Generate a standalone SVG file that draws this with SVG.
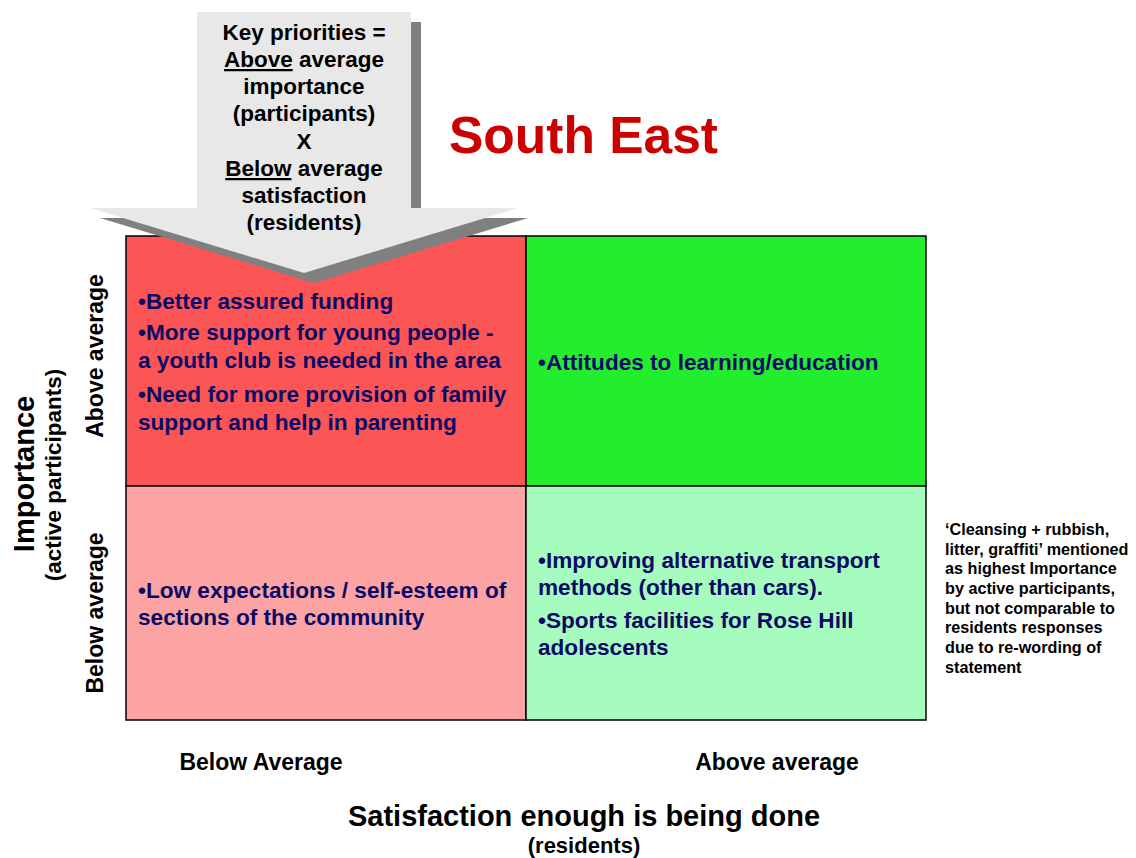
<svg xmlns="http://www.w3.org/2000/svg" width="1136" height="858" viewBox="0 0 1136 858">
<style>
text{font-family:"Liberation Sans",Arial,sans-serif;font-weight:bold}
.q{font-size:22.6px;fill:#0a0a66}
.k{font-size:22.5px;fill:#000;text-anchor:middle}
.n{font-size:16.2px;fill:#000}
.ax{font-size:23px;fill:#000;text-anchor:middle}
</style>
<rect width="1136" height="858" fill="#fff"/>
<g id="grid" stroke="#000" stroke-width="1.5">
<rect id="q-tl" x="126" y="236" width="400" height="250" fill="#FC5555"/>
<rect id="q-tr" x="526" y="236" width="400" height="250" fill="#22EE2E"/>
<rect id="q-bl" x="126" y="486" width="400" height="234" fill="#FCA3A3"/>
<rect id="q-br" x="526" y="486" width="400" height="234" fill="#A6FCBE"/>
</g>
<g id="tl-text">
<text class="q" x="138" y="309">•Better assured funding</text>
<text class="q" x="138" y="340">•More support for young people -</text>
<text class="q" x="138" y="368">a youth club is needed in the area</text>
<text class="q" x="138" y="402">•Need for more provision of family</text>
<text class="q" x="138" y="430">support and help in parenting</text>
</g>
<g id="tr-text"><text class="q" x="538" y="370">•Attitudes to learning/education</text></g>
<g id="bl-text">
<text class="q" x="138" y="598">•Low expectations / self-esteem of</text>
<text class="q" x="138" y="625">sections of the community</text>
</g>
<g id="br-text">
<text class="q" x="538" y="568">•Improving alternative transport</text>
<text class="q" x="538" y="595">methods (other than cars).</text>
<text class="q" x="538" y="628">•Sports facilities for Rose Hill</text>
<text class="q" x="538" y="655">adolescents</text>
</g>
<g id="arrow">
<polygon points="207,22 421,22 421,218 528,218 314,283 100,218 207,218" fill="#808080"/>
<polygon points="197,12 411,12 411,208 518,208 304,273 90,208 197,208" fill="#E8E8E8"/>
<text class="k" x="304" y="40">Key priorities =</text>
<text class="k" x="304" y="67"><tspan text-decoration="underline">Above</tspan> average</text>
<text class="k" x="304" y="94">importance</text>
<text class="k" x="304" y="121">(participants)</text>
<text class="k" x="304" y="149">X</text>
<text class="k" x="304" y="176"><tspan text-decoration="underline">Below</tspan> average</text>
<text class="k" x="304" y="203">satisfaction</text>
<text class="k" x="304" y="230">(residents)</text>
</g>
<g id="title"><text x="449" y="153" style="font-size:51.5px;fill:#CC0000">South East</text></g>
<g id="y-axis">
<text transform="translate(34,474) rotate(-90)" text-anchor="middle" style="font-size:29px">Importance</text>
<text transform="translate(61,475) rotate(-90)" text-anchor="middle" style="font-size:22.5px">(active participants)</text>
<text transform="translate(103,356) rotate(-90)" class="ax">Above average</text>
<text transform="translate(103,613) rotate(-90)" class="ax">Below average</text>
</g>
<g id="x-axis">
<text class="ax" x="261" y="770">Below Average</text>
<text class="ax" x="777" y="770">Above average</text>
<text x="584" y="826" text-anchor="middle" style="font-size:29px">Satisfaction enough is being done</text>
<text x="584" y="853" text-anchor="middle" style="font-size:22px">(residents)</text>
</g>
<g id="note">
<text class="n" x="945" y="535">‘Cleansing + rubbish,</text>
<text class="n" x="945" y="555">litter, graffiti’ mentioned</text>
<text class="n" x="945" y="574">as highest Importance</text>
<text class="n" x="945" y="594">by active participants,</text>
<text class="n" x="945" y="614">but not comparable to</text>
<text class="n" x="945" y="633">residents responses</text>
<text class="n" x="945" y="653">due to re-wording of</text>
<text class="n" x="945" y="673">statement</text>
</g>
</svg>
